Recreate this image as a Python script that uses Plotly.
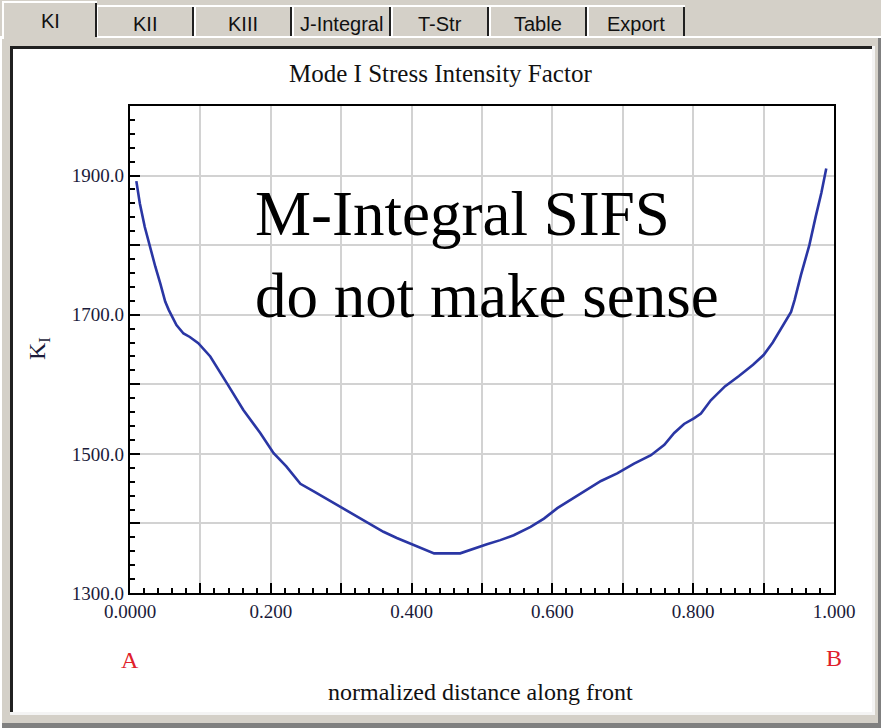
import plotly.graph_objects as go

# Mode I stress intensity factor along the crack front
distance = [0.009, 0.014, 0.021, 0.028, 0.036, 0.043, 0.050, 0.055, 0.066, 0.076,
            0.085, 0.097, 0.114, 0.138, 0.161, 0.185, 0.204, 0.222, 0.242, 0.261,
            0.280, 0.301, 0.322, 0.341, 0.360, 0.379, 0.401, 0.432, 0.469, 0.488,
            0.507, 0.526, 0.545, 0.569, 0.588, 0.607, 0.626, 0.650, 0.669, 0.692,
            0.716, 0.740, 0.759, 0.773, 0.787, 0.801, 0.811, 0.825, 0.845, 0.865,
            0.885, 0.900, 0.913, 0.939, 0.944, 0.953, 0.965, 0.974, 0.982, 0.989]
k_one = [1892, 1860, 1826, 1798, 1769, 1745, 1719, 1707, 1685, 1673,
         1668, 1659, 1640, 1601, 1563, 1530, 1501, 1482, 1457, 1446,
         1435, 1422, 1410, 1399, 1388, 1379, 1370, 1357, 1357, 1364,
         1370, 1376, 1383, 1395, 1407, 1422, 1434, 1448, 1461, 1472,
         1486, 1498, 1513, 1530, 1543, 1551, 1558, 1577, 1597, 1612,
         1628, 1642, 1660, 1704, 1721, 1757, 1800, 1841, 1875, 1910]

x_grid = [0.0, 0.1, 0.2, 0.3, 0.4, 0.5, 0.6, 0.7, 0.8, 0.9, 1.0]
x_label_vals = [0.0, 0.2, 0.4, 0.6, 0.8, 1.0]
x_labels = ["0.0000", "0.200", "0.400", "0.600", "0.800", "1.000"]
y_grid = [1300, 1400, 1500, 1600, 1700, 1800, 1900, 2000]
y_label_vals = [1300, 1500, 1700, 1900]
y_labels = ["1300.0", "1500.0", "1700.0", "1900.0"]
tab_names = ["KI", "KII", "KIII", "J-Integral", "T-Str", "Table", "Export"]

W, H = 881, 728
L, R, T, B = 130, 47, 106, 135
PW, PH = W - L - R, H - T - B

def px(x):
    return (x - L) / PW

def py(y):
    return (H - B - y) / PH

GRAY = "#d4d0c8"
SERIF = "Liberation Serif, Times New Roman, serif"
SANS = "Liberation Sans, Arial, sans-serif"
LABEL_INK = "#1b1b3a"

shapes = []

def rect(x0, y0, x1, y1, color):
    shapes.append(dict(type="rect", xref="paper", yref="paper",
                       x0=px(x0), x1=px(x1), y0=py(y1), y1=py(y0),
                       fillcolor=color, line=dict(width=0), layer="below"))

# tab control body
rect(0, 36, 881, 728, "#ffffff")
rect(2, 38, 881, 728, GRAY)
rect(878, 38, 881, 728, "#808080")
rect(2, 723, 881, 728, "#808080")

# sunken white panel
rect(10, 46, 875, 715, "#f4f4f4")
rect(10, 46, 872, 712, "#202020")
rect(13, 49, 872, 712, "#ffffff")

# tabs
tab_edges = [96, 194, 292, 391, 489, 587, 685]
for i in range(1, len(tab_edges)):
    x0, x1 = tab_edges[i - 1], tab_edges[i]
    rect(x0, 5, x1, 36, "#ffffff")
    rect(x0 + 2, 7, x1, 36, GRAY)
    rect(x1 - 2, 7, x1, 36, "#202020")
rect(2, 1, 97, 39, "#ffffff")
rect(4, 3, 97, 39, GRAY)
rect(95, 3, 97, 37, "#202020")

annotations = []
tab_centers = [50] + [(tab_edges[i - 1] + tab_edges[i]) / 2 for i in range(1, len(tab_edges))]
for i, name in enumerate(tab_names):
    annotations.append(dict(text=name, xref="paper", yref="paper",
                            x=px(tab_centers[i]), y=py(21 if i == 0 else 24),
                            showarrow=False, xanchor="center", yanchor="middle",
                            font=dict(family=SANS, size=20, color="#111111")))

annotations += [
    dict(text="Mode I Stress Intensity Factor", xref="paper", yref="paper",
         x=px(440), y=py(74), showarrow=False, xanchor="center", yanchor="middle",
         font=dict(family=SERIF, size=25, color="#111111")),
    dict(text="normalized distance along front", xref="paper", yref="paper",
         x=px(480), y=py(692), showarrow=False, xanchor="center", yanchor="middle",
         font=dict(family=SERIF, size=24, color="#111111")),
    dict(text="K<sub>I</sub>", xref="paper", yref="paper",
         x=px(39), y=py(349), showarrow=False, textangle=-90,
         xanchor="center", yanchor="middle",
         font=dict(family=SERIF, size=24, color=LABEL_INK)),
    dict(text="A", xref="x", yref="paper", x=0.0, y=py(660), showarrow=False,
         xanchor="center", yanchor="middle",
         font=dict(family=SERIF, size=24, color="#e0202a")),
    dict(text="B", xref="x", yref="paper", x=1.0, y=py(658), showarrow=False,
         xanchor="center", yanchor="middle",
         font=dict(family=SERIF, size=24, color="#e0202a")),
    dict(text="M-Integral SIFS<br>do not make sense", xref="paper", yref="paper",
         x=px(253), y=py(255), showarrow=False, xanchor="left", yanchor="middle",
         align="left", font=dict(family=SERIF, size=63, color="#000000")),
]

fig = go.Figure()
fig.add_trace(go.Scatter(x=distance, y=k_one, mode="lines",
                         line=dict(color="#2a36a4", width=2.6),
                         hoverinfo="skip"))
# empty trace that carries the labelled tick axes
fig.add_trace(go.Scatter(x=[], y=[], xaxis="x2", yaxis="y2", hoverinfo="skip"))

fig.update_layout(
    width=W, height=H, autosize=False,
    margin=dict(l=L, r=R, t=T, b=B, pad=0),
    paper_bgcolor=GRAY, plot_bgcolor="#ffffff",
    showlegend=False, shapes=shapes, annotations=annotations,
)

frame = dict(showline=True, linecolor="#000000", linewidth=1.5, mirror=True,
             showgrid=True, gridcolor="#d2d2d2", gridwidth=1.5,
             ticks="inside", ticklen=10, tickwidth=1.5, tickcolor="#000000",
             tickmode="array", zeroline=False, showticklabels=False)
labels = dict(showline=False, showgrid=False, zeroline=False, ticks="",
              tickmode="array", ticklabelstandoff=5,
              tickfont=dict(family=SERIF, size=19, color=LABEL_INK))

fig.update_layout(
    xaxis=dict(range=[0, 1], tickvals=x_grid,
               minor=dict(tickmode="linear", tick0=0, dtick=0.02, ticks="inside",
                          ticklen=5, tickwidth=1.5, tickcolor="#000000", showgrid=False),
               **frame),
    yaxis=dict(range=[1300, 2000], tickvals=y_grid,
               minor=dict(tickmode="linear", tick0=1300, dtick=20, ticks="inside",
                          ticklen=5, tickwidth=1.5, tickcolor="#000000", showgrid=False),
               **frame),
    xaxis2=dict(range=[0, 1], overlaying="x", anchor="y2", side="bottom",
                tickvals=x_label_vals, ticktext=x_labels, **labels),
    yaxis2=dict(range=[1300, 2000], overlaying="y", anchor="x2", side="left",
                tickvals=y_label_vals, ticktext=y_labels, **labels),
)

fig.write_html("out.html")
